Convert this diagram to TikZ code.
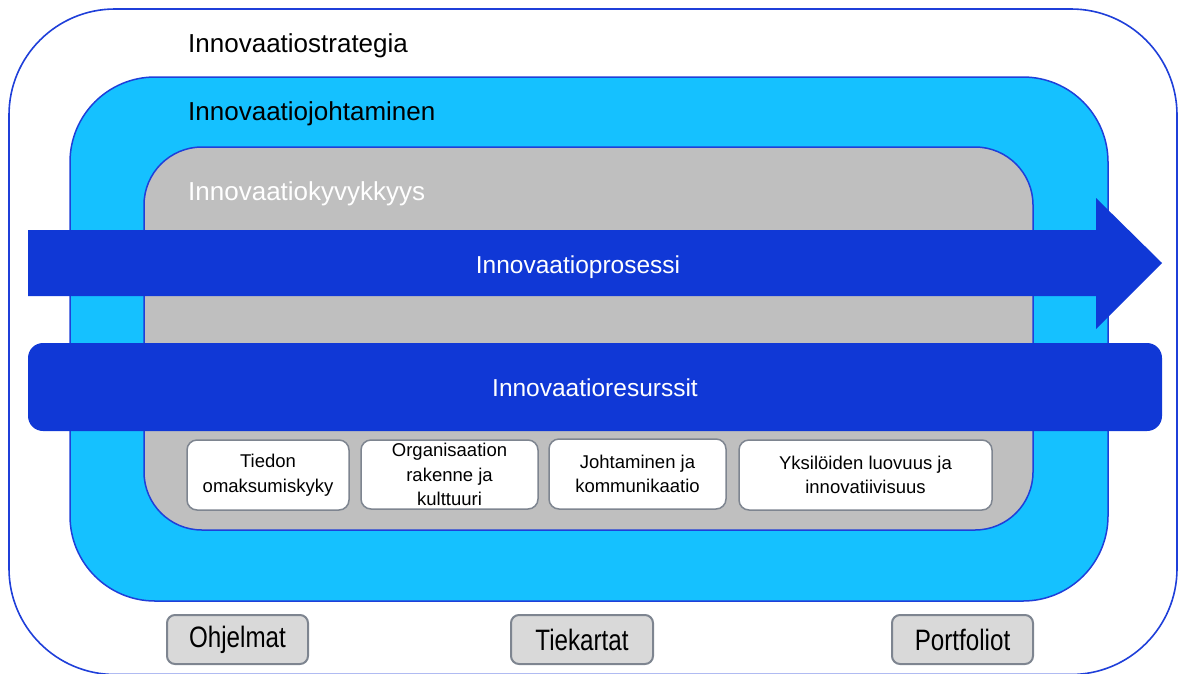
\documentclass[tikz,border=0pt]{standalone}
\usepackage{fontspec}
\setmainfont{Liberation Sans}
\newfontfamily\narrowfont[FakeStretch=0.82]{Liberation Sans}
\definecolor{lineblue}{HTML}{1F3FD9}
\definecolor{skyblue}{HTML}{15C1FF}
\definecolor{capgray}{HTML}{BFBFBF}
\definecolor{darkblue}{HTML}{1038D6}
\definecolor{boxborder}{HTML}{7E8590}
\definecolor{tabgray}{HTML}{D9D9D9}
\tikzset{
  heading/.style={anchor=base west, inner sep=0pt, font=\fontsize{26}{30}\selectfont},
  bandlabel/.style={anchor=base, inner sep=0pt, text=white, font=\fontsize{24.5}{30}\selectfont},
  capbox/.style={draw=boxborder, line width=1.5pt, fill=white, rounded corners=10pt,
    inner sep=0pt, align=center, font=\fontsize{18.5}{24.5}\selectfont},
  tabbox/.style={draw=boxborder, line width=2pt, fill=tabgray, rounded corners=8pt,
    inner sep=0pt, minimum height=49pt, font=\narrowfont\fontsize{29.5}{30}\selectfont}
}
\begin{document}
\begin{tikzpicture}[x=1pt,y=-1pt]
\useasboundingbox (0,0) rectangle (1180,673);
\clip (0,0) rectangle (1180,673);
% outer container
\draw[lineblue, line width=1.6pt, rounded corners=106pt] (9,9) rectangle (1177,674.5);
% management layer
\draw[fill=skyblue, draw=lineblue, line width=1.5pt, rounded corners=85pt] (70,77) rectangle (1108,601);
% capability layer
\draw[fill=capgray, draw=lineblue, line width=1.5pt, rounded corners=58pt] (144,147) rectangle (1033,530);
% process arrow
\fill[darkblue] (28,230) -- (1096,230) -- (1096,198) -- (1162,263) -- (1096,329) -- (1096,296) -- (28,296) -- cycle;
% resources bar
\fill[darkblue, rounded corners=15pt] (28,343) rectangle (1162,431);

\node[heading] (strat) at (188,52) {Innovaatiostrategia};
\node[heading] (mgmt) at (188,120) {Innovaatiojohtaminen};
\node[heading, text=white] (capab) at (188,200) {Innovaatiokyvykkyys};
\node[bandlabel] (proc) at (578,273) {Innovaatioprosessi};
\node[bandlabel] (res) at (595,396) {Innovaatioresurssit};

\node[capbox, minimum width=162pt, minimum height=70pt] (c1) at (268,475) {Tiedon\\omaksumiskyky};
\node[capbox, minimum width=177pt, minimum height=69pt] (c2) at (449.5,474.5) {Organisaation\\rakenne ja\\kulttuuri};
\node[capbox, minimum width=177pt, minimum height=70pt] (c3) at (637.5,474) {Johtaminen ja\\kommunikaatio};
\node[capbox, minimum width=253pt, minimum height=70pt] (c4) at (865.5,475) {Yksilöiden luovuus ja\\innovatiivisuus};

\node[tabbox, minimum width=141pt] (t1) at (237.5,639.5) {Ohjelmat};
\node[tabbox, minimum width=142pt] (t2) at (582,639.5) {Tiekartat};
\node[tabbox, minimum width=141pt] (t3) at (962.5,639.5) {Portfoliot};
\end{tikzpicture}
\end{document}
